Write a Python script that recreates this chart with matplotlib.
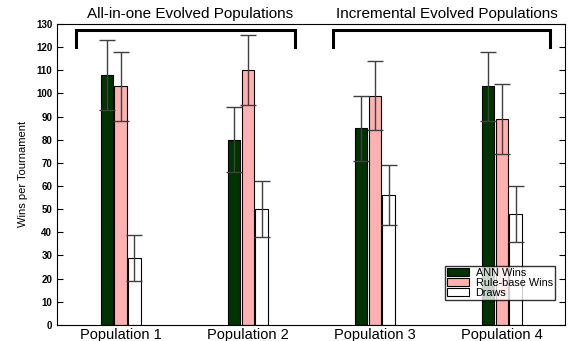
import matplotlib.pyplot as plt
import numpy as np

plt.rcParams['font.family'] = ['Liberation Sans', 'DejaVu Sans']

# === Data ===
populations = ['Population 1', 'Population 2', 'Population 3', 'Population 4']
ann_wins = [108, 80, 85, 103]
ann_err = [15, 14, 14, 15]
rule_wins = [103, 110, 99, 89]
rule_err = [15, 15, 15, 15]
draws = [29, 50, 56, 48]
draws_err = [10, 12, 13, 12]
series = [
    ('ANN Wins', ann_wins, ann_err, '#003300'),
    ('Rule-base Wins', rule_wins, rule_err, '#ffb0b0'),
    ('Draws', draws, draws_err, 'white'),
]

# === Figure ===
fig = plt.figure(figsize=(5.76, 3.41), dpi=100)
ax = fig.add_axes([0.099, 0.047, 0.882, 0.883])

x = np.arange(len(populations)) + 0.5
width = 0.095
offsets = [-0.11, 0.0, 0.11]

for (label, vals, errs, color), off in zip(series, offsets):
    ax.bar(x + off, vals, width, color=color, edgecolor='black', linewidth=0.8, label=label)
    ax.errorbar(x + off, vals, yerr=errs, fmt='none', ecolor='#404040',
                elinewidth=1.0, capsize=6, capthick=1.0)

ax.set_xlim(0, 4)
ax.set_ylim(0, 130)
ax.set_yticks(np.arange(0, 131, 10))
ax.set_xticks(x)
ax.set_xticklabels(populations, fontsize=10.5)
ax.tick_params(axis='y', labelsize=7, direction='in', right=True, length=4)
for t in ax.get_yticklabels():
    t.set_fontweight('bold')
ax.tick_params(axis='x', direction='in', length=0, pad=2)
ax.set_ylabel('Wins per Tournament', fontsize=8, labelpad=6)

# group brackets
for x0, x1, xt, title in [(0.15, 1.87, 1.05, 'All-in-one Evolved Populations'),
                          (2.17, 3.88, 3.07, 'Incremental Evolved Populations')]:
    ax.plot([x0, x0, x1, x1], [120, 127.4, 127.4, 120], color='black', lw=2.2, solid_joinstyle='miter')
    ax.text(xt, 131.3, title, ha='center', va='bottom', fontsize=11, clip_on=False)

leg = ax.legend(loc='lower right', bbox_to_anchor=(0.98, 0.083), fontsize=7.8,
                frameon=True, fancybox=False, edgecolor='black', borderpad=0.2,
                labelspacing=0.0, handlelength=2.0, handleheight=0.8, handletextpad=0.6,
                borderaxespad=0)
leg.get_frame().set_linewidth(1.0)

fig.savefig('out.png', dpi=100)
